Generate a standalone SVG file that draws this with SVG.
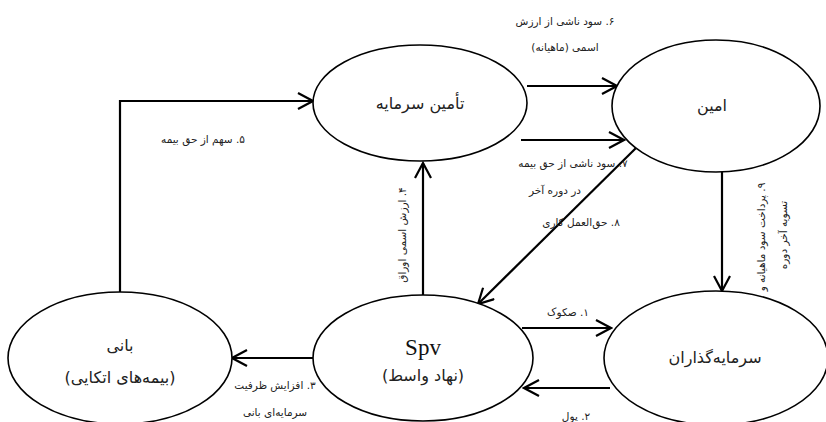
<svg xmlns="http://www.w3.org/2000/svg" width="826" height="422" viewBox="0 0 826 422">
<style>
.node ellipse{fill:#fff;stroke:#000;stroke-width:1.6}
.nl{font-family:"DejaVu Sans","Noto Sans",sans-serif;font-size:16px;fill:#222;text-anchor:middle;direction:rtl;unicode-bidi:embed}
.el{font-family:"DejaVu Sans","Noto Sans",sans-serif;font-size:10.5px;fill:#222;text-anchor:middle;direction:rtl;unicode-bidi:embed}
.conn line,.conn polyline{stroke:#000;stroke-width:2.2;fill:none;marker-end:url(#ah)}
</style>
<defs>
<marker id="ah" markerUnits="userSpaceOnUse" markerWidth="18" markerHeight="18" viewBox="0 0 18 18" refX="16" refY="9" orient="auto">
<path d="M1,1 L16,9 L1,17" fill="none" stroke="#000" stroke-width="2.2"/>
</marker>
</defs>
<rect width="826" height="422" fill="#fff"/>
<g class="conn" id="connectors">
<polyline points="120,293 120,101 313,101"/>
<line x1="527" y1="86" x2="617" y2="86"/>
<line x1="521" y1="140" x2="624" y2="140"/>
<line x1="636" y1="148" x2="478" y2="304"/>
<line x1="423" y1="295" x2="423" y2="163"/>
<line x1="722" y1="172" x2="722" y2="291"/>
<line x1="522" y1="328" x2="611" y2="328"/>
<line x1="610" y1="388" x2="524" y2="388"/>
<line x1="313" y1="358" x2="232" y2="358"/>
</g>
<g class="node" id="tamin"><ellipse cx="420" cy="103" rx="107" ry="58"/><text class="nl" direction="rtl" x="420" y="109">تأمین سرمایه</text></g>
<g class="node" id="amin"><ellipse cx="716" cy="106" rx="104" ry="66"/><text class="nl" direction="rtl" x="712" y="111">امین</text></g>
<g class="node" id="sarmayegozaran"><ellipse cx="716" cy="358" rx="112" ry="67"/><text class="nl" direction="rtl" x="715" y="363">سرمایه‌گذاران</text></g>
<g class="node" id="spv"><ellipse cx="423" cy="358" rx="110" ry="63"/><text x="423" y="355" style="font-family:'Liberation Serif',serif;font-size:23px;text-anchor:middle;fill:#111">Spv</text><text class="nl" direction="rtl" x="423" y="381">(نهاد واسط)</text></g>
<g class="node" id="bani"><ellipse cx="120" cy="358" rx="112" ry="66"/><text class="nl" direction="rtl" x="120" y="351">بانی</text><text class="nl" direction="rtl" x="120" y="383">(بیمه‌های اتکایی)</text></g>
<g id="labels">
<text class="el" direction="rtl" x="565" y="25">۶. سود ناشی از ارزش</text>
<text class="el" direction="rtl" x="565" y="51">اسمی (ماهیانه)</text>
<text class="el" direction="rtl" x="203" y="143">۵. سهم از حق بیمه</text>
<text class="el" direction="rtl" x="573" y="167">۷. سود ناشی از حق بیمه</text>
<text class="el" direction="rtl" x="555" y="194">در دوره آخر</text>
<text class="el" direction="rtl" x="581" y="226">۸. حق‌العمل کاری</text>
<text class="el" direction="rtl" transform="translate(406,235) rotate(-90)">۴. ارزش اسمی اوراق</text>
<text class="el" direction="rtl" transform="translate(765,237) rotate(-90)">۹. پرداخت سود ماهیانه و</text>
<text class="el" direction="rtl" transform="translate(787,235) rotate(-90)">تسویه آخر دوره</text>
<text class="el" direction="rtl" x="568" y="316">۱. صکوک</text>
<text class="el" direction="rtl" x="576" y="420">۲. پول</text>
<text class="el" direction="rtl" x="275" y="389">۳. افزایش ظرفیت</text>
<text class="el" direction="rtl" x="275" y="416">سرمایه‌ای بانی</text>
</g>
</svg>
